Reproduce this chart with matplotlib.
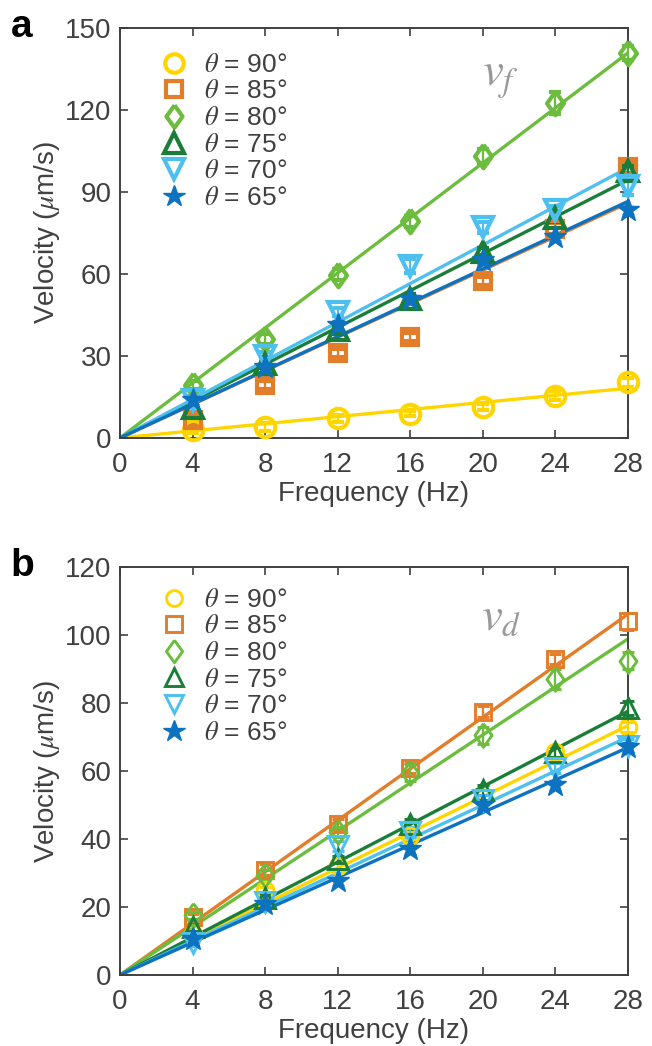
import matplotlib
matplotlib.use("Agg")
import matplotlib.pyplot as plt
from matplotlib.lines import Line2D

plt.rcParams['font.family'] = ['Liberation Sans', 'DejaVu Sans']
plt.rcParams['mathtext.fontset'] = 'stix'

# ---------------- data ----------------
freq = [4, 8, 12, 16, 20, 24, 28]
angles = ['90', '85', '80', '75', '70', '65']
colors = ['#FFD500', '#E27D2A', '#6CBD3E', '#1A7E38', '#4DC0F0', '#0D72C0']
markers = ['o', 's', 'D', '^', 'v', '*']

# panel a: v_f
vf = {
    '90': [2.9, 4.1, 7.2, 8.9, 11.3, 15.5, 20.3],
    '85': [6.6, 19.5, 31.2, 37.0, 57.3, 76.5, 99.0],
    '80': [19.5, 36.2, 59.7, 79.2, 103.2, 122.5, 140.8],
    '75': [11.0, 27.0, 39.5, 51.0, 68.0, 80.5, 97.5],
    '70': [14.0, 30.0, 46.0, 63.0, 77.0, 83.5, 92.0],
    '65': [14.0, 26.0, 41.5, 51.0, 65.0, 73.5, 83.5],
}
vf_err = {
    '90': [1.2, 1.5, 1.2, 1.0, 1.2, 1.5, 1.5],
    '85': [1.5, 1.5, 1.5, 1.5, 1.5, 2.0, 2.0],
    '80': [1.5, 2.0, 2.0, 2.0, 2.5, 4.0, 2.5],
    '75': [1.5, 1.5, 1.5, 1.5, 1.5, 1.5, 2.0],
    '70': [1.5, 1.5, 1.5, 2.5, 2.0, 1.5, 3.0],
    '65': [1.5, 1.5, 1.5, 1.5, 1.5, 1.5, 1.5],
}
vf_slope = {'90': 0.65, '85': 3.07, '80': 5.03, '75': 3.37, '70': 3.53, '65': 3.09}

# panel b: v_d
vd = {
    '90': [12.0, 25.0, 32.0, 41.0, 52.0, 65.5, 73.0],
    '85': [17.0, 31.0, 44.5, 61.0, 77.5, 93.0, 104.0],
    '80': [17.5, 29.5, 42.0, 59.5, 70.5, 87.0, 92.5],
    '75': [14.0, 22.5, 34.0, 44.5, 54.5, 65.5, 78.5],
    '70': [9.5, 21.5, 38.0, 42.0, 51.5, 61.0, 67.5],
    '65': [10.5, 21.0, 27.5, 37.0, 50.0, 56.0, 67.0],
}
vd_err = {
    '90': [1.0, 1.0, 1.0, 1.0, 1.0, 1.5, 1.5],
    '85': [1.0, 1.5, 1.5, 1.5, 1.5, 1.5, 2.5],
    '80': [1.0, 1.5, 1.5, 2.5, 2.5, 3.0, 2.5],
    '75': [1.0, 1.0, 1.0, 1.5, 1.5, 1.5, 2.0],
    '70': [1.0, 1.0, 1.5, 1.5, 1.5, 1.5, 2.0],
    '65': [1.0, 1.0, 1.0, 1.5, 1.5, 1.5, 1.5],
}
vd_slope = {'90': 2.62, '85': 3.79, '80': 3.53, '75': 2.77, '70': 2.50, '65': 2.39}

xticks = [0, 4, 8, 12, 16, 20, 24, 28]
yticks_a = [0, 30, 60, 90, 120, 150]
yticks_b = [0, 20, 40, 60, 80, 100, 120]

# ---------------- style ----------------
TXT = '#404040'
DIAMOND = [(0, 1), (0.72, 0), (0, -1), (-0.72, 0), (0, 1)]


def mk(m):
    return DIAMOND if m == 'D' else m


def face(m, c):
    return c if m == '*' else 'none'


msize_a = {'o': 14, 's': 11.5, 'D': 17, '^': 15, 'v': 15, '*': 17}
msize_b = {'o': 12, 's': 11.5, 'D': 17, '^': 14, 'v': 14, '*': 17}
mew_a = 3.0
mew_b = 2.1

fig = plt.figure(figsize=(6.52, 10.46), dpi=100)
ax_a = fig.add_axes([0.184, 0.5813, 0.779, 0.392])
ax_b = fig.add_axes([0.184, 0.0679, 0.779, 0.3900])


def draw(ax, vals, errs, slopes, msize, mew, ylim, yticks, label_txt, label_pos,
         letter, leg_y):
    for k, ang in enumerate(angles):
        c = colors[k]
        m = markers[k]
        ax.plot([0, 28], [0, slopes[ang] * 28], color=c, lw=2.4, zorder=2,
                solid_capstyle='butt')
        ax.errorbar(freq, vals[ang], yerr=errs[ang], fmt=' ', marker=mk(m), color=c,
                    mec=c, mfc=face(m, c), ms=msize[m], mew=mew if m != '*' else 1.0,
                    ecolor=c, elinewidth=1.6, capsize=4, capthick=1.6, zorder=3,
                    clip_on=False)
    ax.set_xlim(0, 28)
    ax.set_ylim(*ylim)
    ax.set_xticks(xticks)
    ax.set_yticks(yticks)
    ax.tick_params(direction='in', length=6, width=1.2, top=True, right=True,
                   labelsize=20, colors=TXT)
    ax.tick_params(axis='x', pad=10)
    ax.tick_params(axis='y', pad=6)
    for s in ax.spines.values():
        s.set_color(TXT)
        s.set_linewidth(1.4)
    ax.set_xlabel('Frequency (Hz)', fontsize=20, color=TXT, labelpad=2)
    ax.set_ylabel(r'Velocity ($\mu$m/s)', fontsize=20, color=TXT, labelpad=2)
    handles = []
    for k, ang in enumerate(angles):
        m = markers[k]
        handles.append(Line2D([], [], linestyle='none', marker=mk(m), color=colors[k],
                              mec=colors[k], mfc=face(m, colors[k]),
                              ms=msize[m] * 0.95, mew=mew if m != '*' else 1.0))
    labels = [r'$\theta$ = ' + a + '°' for a in angles]
    ax.legend(handles, labels, loc='upper left', bbox_to_anchor=(0.045, leg_y),
              frameon=False, fontsize=19, labelspacing=0.1, handletextpad=0.3,
              borderaxespad=0.0, handlelength=1.6, labelcolor=TXT)
    ax.text(label_pos[0], label_pos[1], label_txt, transform=ax.transAxes,
            fontsize=34, color='#999999', ha='center', va='center')
    fig.text(letter[1], letter[2], letter[0], fontsize=28, fontweight='bold',
             color='black', ha='left', va='top')


draw(ax_a, vf, vf_err, vf_slope, msize_a, mew_a, (0, 150), yticks_a,
     r'$v_f$', (0.75, 0.875), ('a', 0.016, 0.991), 0.965)
draw(ax_b, vd, vd_err, vd_slope, msize_b, mew_b, (0, 120), yticks_b,
     r'$v_d$', (0.75, 0.875), ('b', 0.016, 0.476), 0.975)

fig.savefig('out.png', dpi=100)
